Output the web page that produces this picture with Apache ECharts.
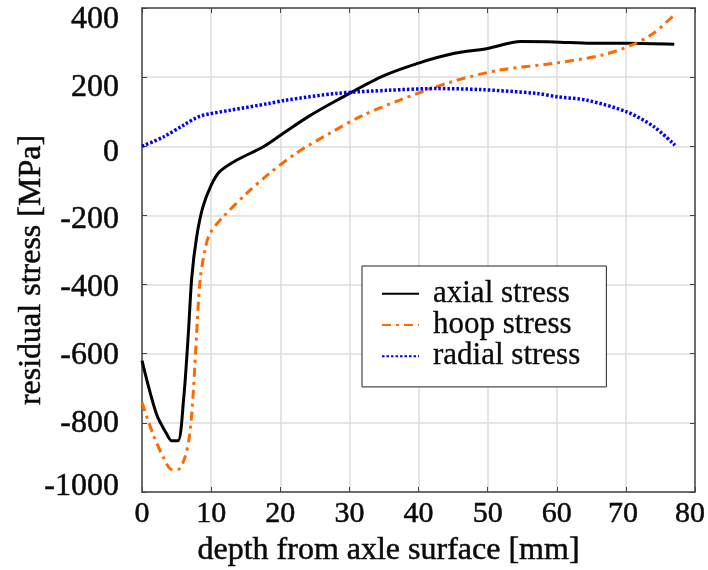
<!DOCTYPE html>
<html><head><meta charset="utf-8">
<script src="https://cdn.jsdelivr.net/npm/echarts@6/dist/echarts.min.js"></script>
<style>html,body{margin:0;padding:0;background:#fff}#c{width:708px;height:570px}</style>
</head><body><div id="c"></div>
<script>
const xTicks = [0,10,20,30,40,50,60,70,80];
const yTicks = [-1000,-800,-600,-400,-200,0,200,400];

const axialX = [0,2.1,3.6,4.3,5.2,6.0,6.7,7.2,7.9,8.8,10.0,11.2,13.6,17.5,20.4,24,28.2,34.6,39.9,45.2,50.0,54.8,59.6,65.0,70.3,77.0];
const axialY = [-620,-775,-833,-852,-852,-736,-543,-379,-263,-176,-113,-74,-41,-2,37,85,133,201,240,269,283,303,302,298,298,295];

const hoopX = [0,1.6,3.1,4.3,5.2,6.2,6.9,7.4,7.9,8.4,9.1,9.8,11.7,15.1,18.4,22.3,27.1,32,37.2,44.7,51.6,59.6,66.6,70.9,74.0,77.0];
const hoopY = [-741,-833,-900,-935,-935,-900,-833,-717,-543,-388,-301,-253,-205,-137,-79,-20,37,90,133,186,220,240,264,293,327,380];

const radialX = [0,3.1,6.0,8.4,12.7,18.4,20.7,28.2,35.6,42.6,49.0,57.0,60.2,64.4,70.2,74.1,77.1];
const radialY = [0,27,61,87,104,124,133,153,162,167,164,153,143,133,99,56,3];

const zip = (a,b)=>a.map((v,i)=>[v,b[i]]);
const serif = '"Liberation Serif","DejaVu Serif",serif';
const ink = '#0a0a0a';
const heavy = {textBorderColor:ink, textBorderWidth:0.5};

// vertical nudges of y tick labels (px, + = down)
const yNudge = {'400':12,'200':10,'0':6,'-200':4,'-400':3,'-600':2,'-800':1,'-1000':-5};
const yRich = {};
yTicks.forEach((v,i)=>{
  const d = yNudge[String(v)] || 0;
  yRich['t'+i] = Object.assign({fontFamily:serif,fontSize:32,color:ink,
    padding: d>=0 ? [2*d,0,0,0] : [0,0,-2*d,0]}, heavy);
});
// horizontal nudges of x tick labels (px, - = left)
const xNudge = {'70':-3,'80':-5};
const xRich = {};
xTicks.forEach((v,i)=>{
  const d = xNudge[String(v)] || 0;
  xRich['t'+i] = Object.assign({fontFamily:serif,fontSize:30,color:ink,
    padding: d<=0 ? [0,-2*d,0,0] : [0,0,0,2*d]}, heavy);
});

const chart = echarts.init(document.getElementById('c'), null, {renderer:'canvas'});
chart.setOption({
  animation:false,
  backgroundColor:'#fff',
  grid:{left:142,right:13,top:8,bottom:78,containLabel:false,outerBoundsMode:'none'},
  legend:{
    orient:'vertical', left:362, top:266,
    backgroundColor:'#fff', borderColor:'#222', borderWidth:1,
    padding:[12,26,15,19], itemGap:0, itemWidth:37, itemHeight:30,
    itemStyle:{opacity:0},
    textStyle:Object.assign({fontFamily:serif,fontSize:31,color:ink,lineHeight:30,padding:[0,0,0,9]},{textBorderColor:ink,textBorderWidth:0.3}),
    data:['axial stress','hoop stress','radial stress']
  },
  xAxis:[{
    type:'value', min:0, max:80, interval:10,
    name:'depth from axle surface [mm]', nameLocation:'middle', nameGap:38,
    nameTextStyle:Object.assign({fontFamily:serif,fontSize:32,color:ink,padding:[0,60,0,0]},heavy),
    axisLine:{onZero:false,lineStyle:{color:'#444',width:1.5}},
    axisTick:{inside:true,length:5,lineStyle:{color:'#444'}},
    axisLabel:{margin:7, rich:xRich,
      formatter:v=>{const i=xTicks.indexOf(v); return i<0?'':'{t'+i+'|'+v+'}';}},
    splitLine:{show:true,lineStyle:{color:'#ddd',width:1.5}}
  },{
    type:'value', min:0, max:80, interval:10, position:'top',
    axisLine:{onZero:false,lineStyle:{color:'#444',width:1.5}},
    axisTick:{inside:true,length:5,lineStyle:{color:'#444'}},
    axisLabel:{show:false}, splitLine:{show:false}
  }],
  yAxis:[{
    type:'value', min:-1000, max:400, interval:200,
    name:'residual stress [MPa]', nameLocation:'middle', nameGap:94, nameMoveOverlap:false,
    nameTextStyle:Object.assign({fontFamily:serif,fontSize:32,color:ink,padding:[0,40,0,0]},heavy),
    axisLine:{show:true,onZero:false,lineStyle:{color:'#444',width:1.5}},
    axisTick:{show:true,inside:true,length:5,lineStyle:{color:'#444'}},
    axisLabel:{margin:23, rich:yRich,
      formatter:v=>{const i=yTicks.indexOf(v); return i<0?'':'{t'+i+'|'+v+'}';}},
    splitLine:{show:true,lineStyle:{color:'#ddd',width:1.5}}
  },{
    type:'value', min:-1000, max:400, interval:200, position:'right',
    axisLine:{show:true,onZero:false,lineStyle:{color:'#444',width:1.5}},
    axisTick:{show:true,inside:true,length:5,lineStyle:{color:'#444'}},
    axisLabel:{show:false}, splitLine:{show:false}
  }],
  series:[
    {name:'axial stress',type:'line',smooth:0.3,symbol:'none',data:zip(axialX,axialY),
     lineStyle:{color:'#000',width:3},itemStyle:{color:'#000'}},
    {name:'hoop stress',type:'line',smooth:0.3,symbol:'none',data:zip(hoopX,hoopY),
     lineStyle:{color:'#ff6a00',width:3,type:[9,5,3,5]},itemStyle:{color:'#ff6a00'}},
    {name:'radial stress',type:'line',smooth:0.3,symbol:'none',data:zip(radialX,radialY),
     lineStyle:{color:'#0000ff',width:3.5,type:[2.5,2]},itemStyle:{color:'#0000ff'}}
  ]
});
</script></body></html>
